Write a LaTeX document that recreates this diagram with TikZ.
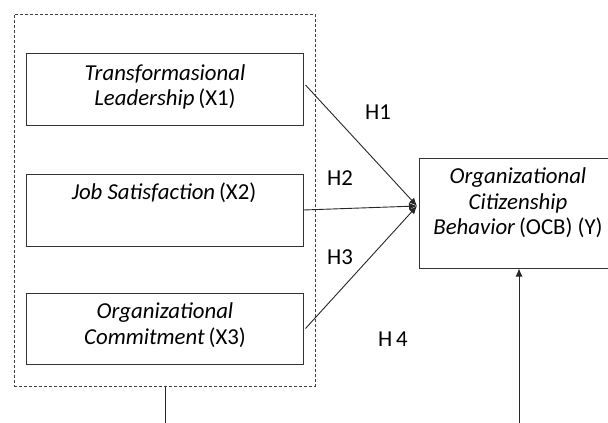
\documentclass[tikz,border=0pt]{standalone}
\usepackage{fontspec}
\setmainfont{Carlito}
\usetikzlibrary{arrows.meta,calc}
\tikzset{
  box/.style={draw=black!80, line width=1pt, inner sep=0pt},
  txt/.style={align=center, font=\fontsize{22.8}{25.5}\selectfont, text=black, inner sep=0pt},
  hlab/.style={font=\fontsize{22.8}{25}\selectfont, text=black, inner sep=0pt},
  conn/.style={draw=black!85, line width=0.9pt},
  arr/.style={conn, -{Latex[length=8pt,width=7pt]}},
}
\begin{document}
\begin{tikzpicture}[x=1pt,y=-1pt]
\useasboundingbox (0,0) rectangle (608,423);
% dashed group
\node[draw=black!75, line width=0.9pt, dash pattern=on 3pt off 2pt, minimum width=301pt, minimum height=372pt, inner sep=0pt] (grp) at (164.5,200) {};
% boxes
\node[box, minimum width=277pt, minimum height=72pt] (b1) at (164.5,89) {};
\node[box, minimum width=277pt, minimum height=72pt] (b2) at (164.5,210) {};
\node[box, minimum width=277pt, minimum height=71pt] (b3) at (164.5,328.5) {};
\node[box, minimum width=196pt, minimum height=110pt] (by) at (517,213) {};
% texts
\node[txt] (t1) at (165,87) {\textit{Transformasional}\\\textit{Leadership}\,(X1)};
\node[txt] (t2) at (164,193) {\textit{Job Satisfaction}\,(X2)};
\node[txt] (t3) at (165,325) {\textit{Organizational}\\\textit{Commitment}\,(X3)};
\node[txt] (ty) at (518,203) {\textit{Organizational}\\\textit{Citizenship}\\\textit{Behavior}\,(OCB) (Y)};
% labels
\node[hlab] (h1) at (378,112) {H1};
\node[hlab] (h2) at (340,178) {H2};
\node[hlab] (h3) at (340,257) {H3};
\node[hlab] (h4) at (393,339) {H\,4};
% connectors
\coordinate (c) at (417,206);
\draw[arr] ($(b1.east)+(2,-4)$) -- (c);
\draw[arr] (b2.east) -- (c);
\draw[arr] ($(b3.east)+(2,0)$) -- (c);
\coordinate (gb) at (165,423);
\draw[conn] (grp.south -| gb) -- (gb);
\coordinate (yb) at (519,423);
\draw[arr] (yb) -- (yb |- by.south);
\end{tikzpicture}
\end{document}
